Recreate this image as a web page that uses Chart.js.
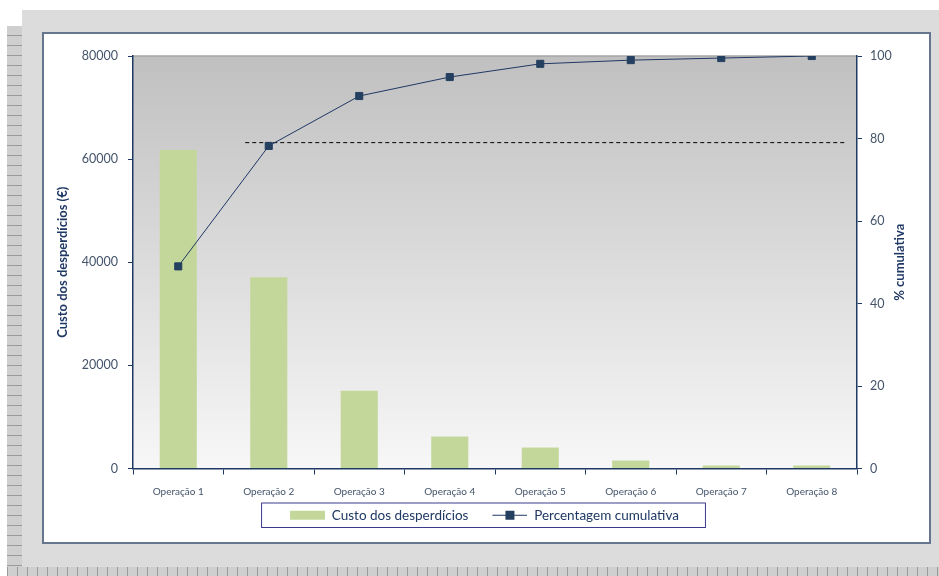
<!DOCTYPE html>
<html>
<head>
<meta charset="utf-8">
<script src="https://cdn.jsdelivr.net/npm/chart.js@4.4.1/dist/chart.umd.min.js"></script>
<style>
  body { margin: 0; background: #fff; width: 939px; height: 576px; overflow: hidden; position: relative; font-family: Lato, sans-serif; }
  .sheet { position: absolute; left: 22px; top: 10px; width: 917px; height: 557px; background: #dcdcdc; }
  .hatch-left { position: absolute; left: 7px; top: 26px; width: 15px; height: 550px;
    background-color: #cfcfcf;
    background-image: repeating-linear-gradient(0deg, #9a9a9a 0 1px, transparent 1px 10px); }
  .hatch-bottom { position: absolute; left: 7px; top: 567px; width: 932px; height: 9px;
    background-color: #cfcfcf;
    background-image: repeating-linear-gradient(90deg, #9a9a9a 0 1px, transparent 1px 10px); }
  .box { position: absolute; left: 42px; top: 32px; width: 889px; height: 512px; box-sizing: border-box;
    border: 2px solid #66768c; background: #fff; }
  canvas { display: block; }
</style>
</head>
<body>
<div class="sheet"></div>
<div class="hatch-left"></div>
<div class="hatch-bottom"></div>
<div class="box"><canvas id="chart1" width="885" height="508"></canvas></div>
<script>
// dados
const categorias = ['Operação 1', 'Operação 2', 'Operação 3', 'Operação 4', 'Operação 5', 'Operação 6', 'Operação 7', 'Operação 8'];
const custos = [61750, 37100, 15100, 6200, 4080, 1550, 580, 600];
const percentagem = [49.0, 78.2, 90.3, 94.9, 98.1, 99.0, 99.5, 100];
const linhaCorte = [{ x: 0.74, y: 79 }, { x: 7.37, y: 79 }];
const ticksCusto = [0, 20000, 40000, 60000, 80000];
const ticksPerc = [0, 20, 40, 60, 80, 100];

const navy = '#1f3864';
const tickCor = '#44546a';
const verde = '#c4d79b';

// icones da legenda (margem transparente a esquerda para afastar os itens)
function iconeBarra() {
    const c = document.createElement('canvas');
    c.width = 49; c.height = 11;
    const g = c.getContext('2d');
    g.fillStyle = verde;
    g.fillRect(14, 1, 35, 9);
    return c;
}
function iconeLinha() {
    const c = document.createElement('canvas');
    c.width = 49; c.height = 11;
    const g = c.getContext('2d');
    g.strokeStyle = navy;
    g.lineWidth = 1;
    g.beginPath(); g.moveTo(14, 5.5); g.lineTo(49, 5.5); g.stroke();
    g.fillStyle = '#243f60';
    g.fillRect(27, 1, 9, 9);
    return c;
}

const fundoPlugin = {
    id: 'fundo',
    beforeDraw(chart) {
        const { ctx, chartArea: a } = chart;
        const grad = ctx.createLinearGradient(0, a.top, 0, a.bottom);
        grad.addColorStop(0, '#c0c0c0');
        grad.addColorStop(1, '#f7f7f7');
        ctx.save();
        ctx.fillStyle = grad;
        ctx.fillRect(a.left, a.top, a.right - a.left, a.bottom - a.top);
        ctx.strokeStyle = '#a6a6a6';
        ctx.lineWidth = 1.5;
        ctx.beginPath(); ctx.moveTo(a.left, a.top); ctx.lineTo(a.right, a.top); ctx.stroke();
        ctx.restore();
    },
    afterDraw(chart) {
        const { ctx, chartArea: a } = chart;
        ctx.save();
        // titulo do eixo direito, lido de baixo para cima
        ctx.translate(chart.scales.y1.right - 11, (a.top + a.bottom) / 2);
        ctx.rotate(-Math.PI / 2);
        ctx.fillStyle = navy;
        ctx.font = 'bold 13px Lato';
        ctx.textAlign = 'center';
        ctx.textBaseline = 'middle';
        ctx.fillText('% cumulativa', 0, 0);
        ctx.restore();
        // caixa da legenda
        const boxes = chart.legend.legendHitBoxes;
        if (boxes && boxes.length) {
            const l = Math.min(...boxes.map(b => b.left)) - 15;
            const r = Math.max(...boxes.map(b => b.left + b.width)) + 26;
            const t = boxes[0].top - 6;
            const h = boxes[0].height + 11;
            ctx.save();
            ctx.strokeStyle = '#3c3c8c';
            ctx.lineWidth = 1;
            ctx.strokeRect(l + 0.5, t + 0.5, r - l, h);
            ctx.restore();
        }
    }
};

new Chart(document.getElementById('chart1'), {
    type: 'bar',
    data: {
        labels: categorias,
        datasets: [
            {
                type: 'line',
                label: 'Percentagem cumulativa',
                data: percentagem,
                yAxisID: 'y1',
                borderColor: navy,
                borderWidth: 1,
                pointStyle: 'rect',
                pointRadius: 5,
                pointBackgroundColor: '#243f60',
                pointBorderColor: '#243f60',
                order: 0
            },
            {
                type: 'line',
                label: 'corte',
                data: linhaCorte,
                xAxisID: 'x2',
                yAxisID: 'y1',
                borderColor: '#000',
                borderWidth: 1,
                borderDash: [4, 3],
                pointRadius: 0,
                order: 1
            },
            {
                label: 'Custo dos desperdícios',
                data: custos,
                yAxisID: 'y',
                backgroundColor: verde,
                barPercentage: 0.41,
                categoryPercentage: 1,
                grouped: false,
                order: 2
            }
        ]
    },
    options: {
        responsive: false,
        animation: false,
        layout: { padding: { top: 22, bottom: 10, left: 0, right: 18 } },
        plugins: {
            tooltip: { enabled: false },
            legend: {
                position: 'bottom',
                reverse: true,
                labels: {
                    filter: item => item.text !== 'corte',
                    usePointStyle: true,
                    pointStyleWidth: 49,
                    boxHeight: 11,
                    padding: 10,
                    color: navy,
                    font: { family: 'Lato', size: 13.5 },
                    generateLabels(chart) {
                        return chart.data.datasets.map((ds, i) => ({
                            text: ds.label,
                            datasetIndex: i,
                            pointStyle: ds.type === 'line' ? iconeLinha() : iconeBarra(),
                            fontColor: navy,
                            lineWidth: 0,
                            hidden: false
                        }));
                    }
                }
            }
        },
        scales: {
            x: {
                offset: true,
                grid: { offset: true, drawOnChartArea: false, tickLength: 6, tickColor: navy },
                border: { color: navy, width: 1.5 },
                ticks: { color: tickCor, padding: 11, font: { family: 'Lato', size: 10 } },
                afterFit(s) { s.height = 30; }
            },
            x2: {
                type: 'linear',
                display: false,
                offset: false,
                grid: { offset: false },
                min: -0.5,
                max: categorias.length - 0.5
            },
            y: {
                position: 'left',
                min: 0,
                max: 80000,
                afterBuildTicks(s) { s.ticks = ticksCusto.map(v => ({ value: v })); },
                grid: { drawOnChartArea: false, tickLength: 5, tickColor: navy },
                border: { color: navy, width: 1.5 },
                ticks: { color: tickCor, padding: 10, font: { family: 'Lato', size: 12.5 }, callback: v => String(v) },
                title: {
                    display: true,
                    text: 'Custo dos desperdícios (€)',
                    color: navy,
                    padding: { top: 11, bottom: 0 },
                    font: { family: 'Lato', size: 13, weight: 'bold' }
                },
                afterFit(s) { s.width = 89; }
            },
            y1: {
                position: 'right',
                min: 0,
                max: 100,
                afterBuildTicks(s) { s.ticks = ticksPerc.map(v => ({ value: v })); },
                grid: { drawOnChartArea: false, tickLength: 5, tickColor: navy },
                border: { color: navy, width: 1.5 },
                ticks: { color: tickCor, padding: 8, font: { family: 'Lato', size: 12.5 }, callback: v => String(v) },
                afterFit(s) { s.width = 54; }
            }
        }
    },
    plugins: [fundoPlugin]
});
</script>
</body>
</html>
